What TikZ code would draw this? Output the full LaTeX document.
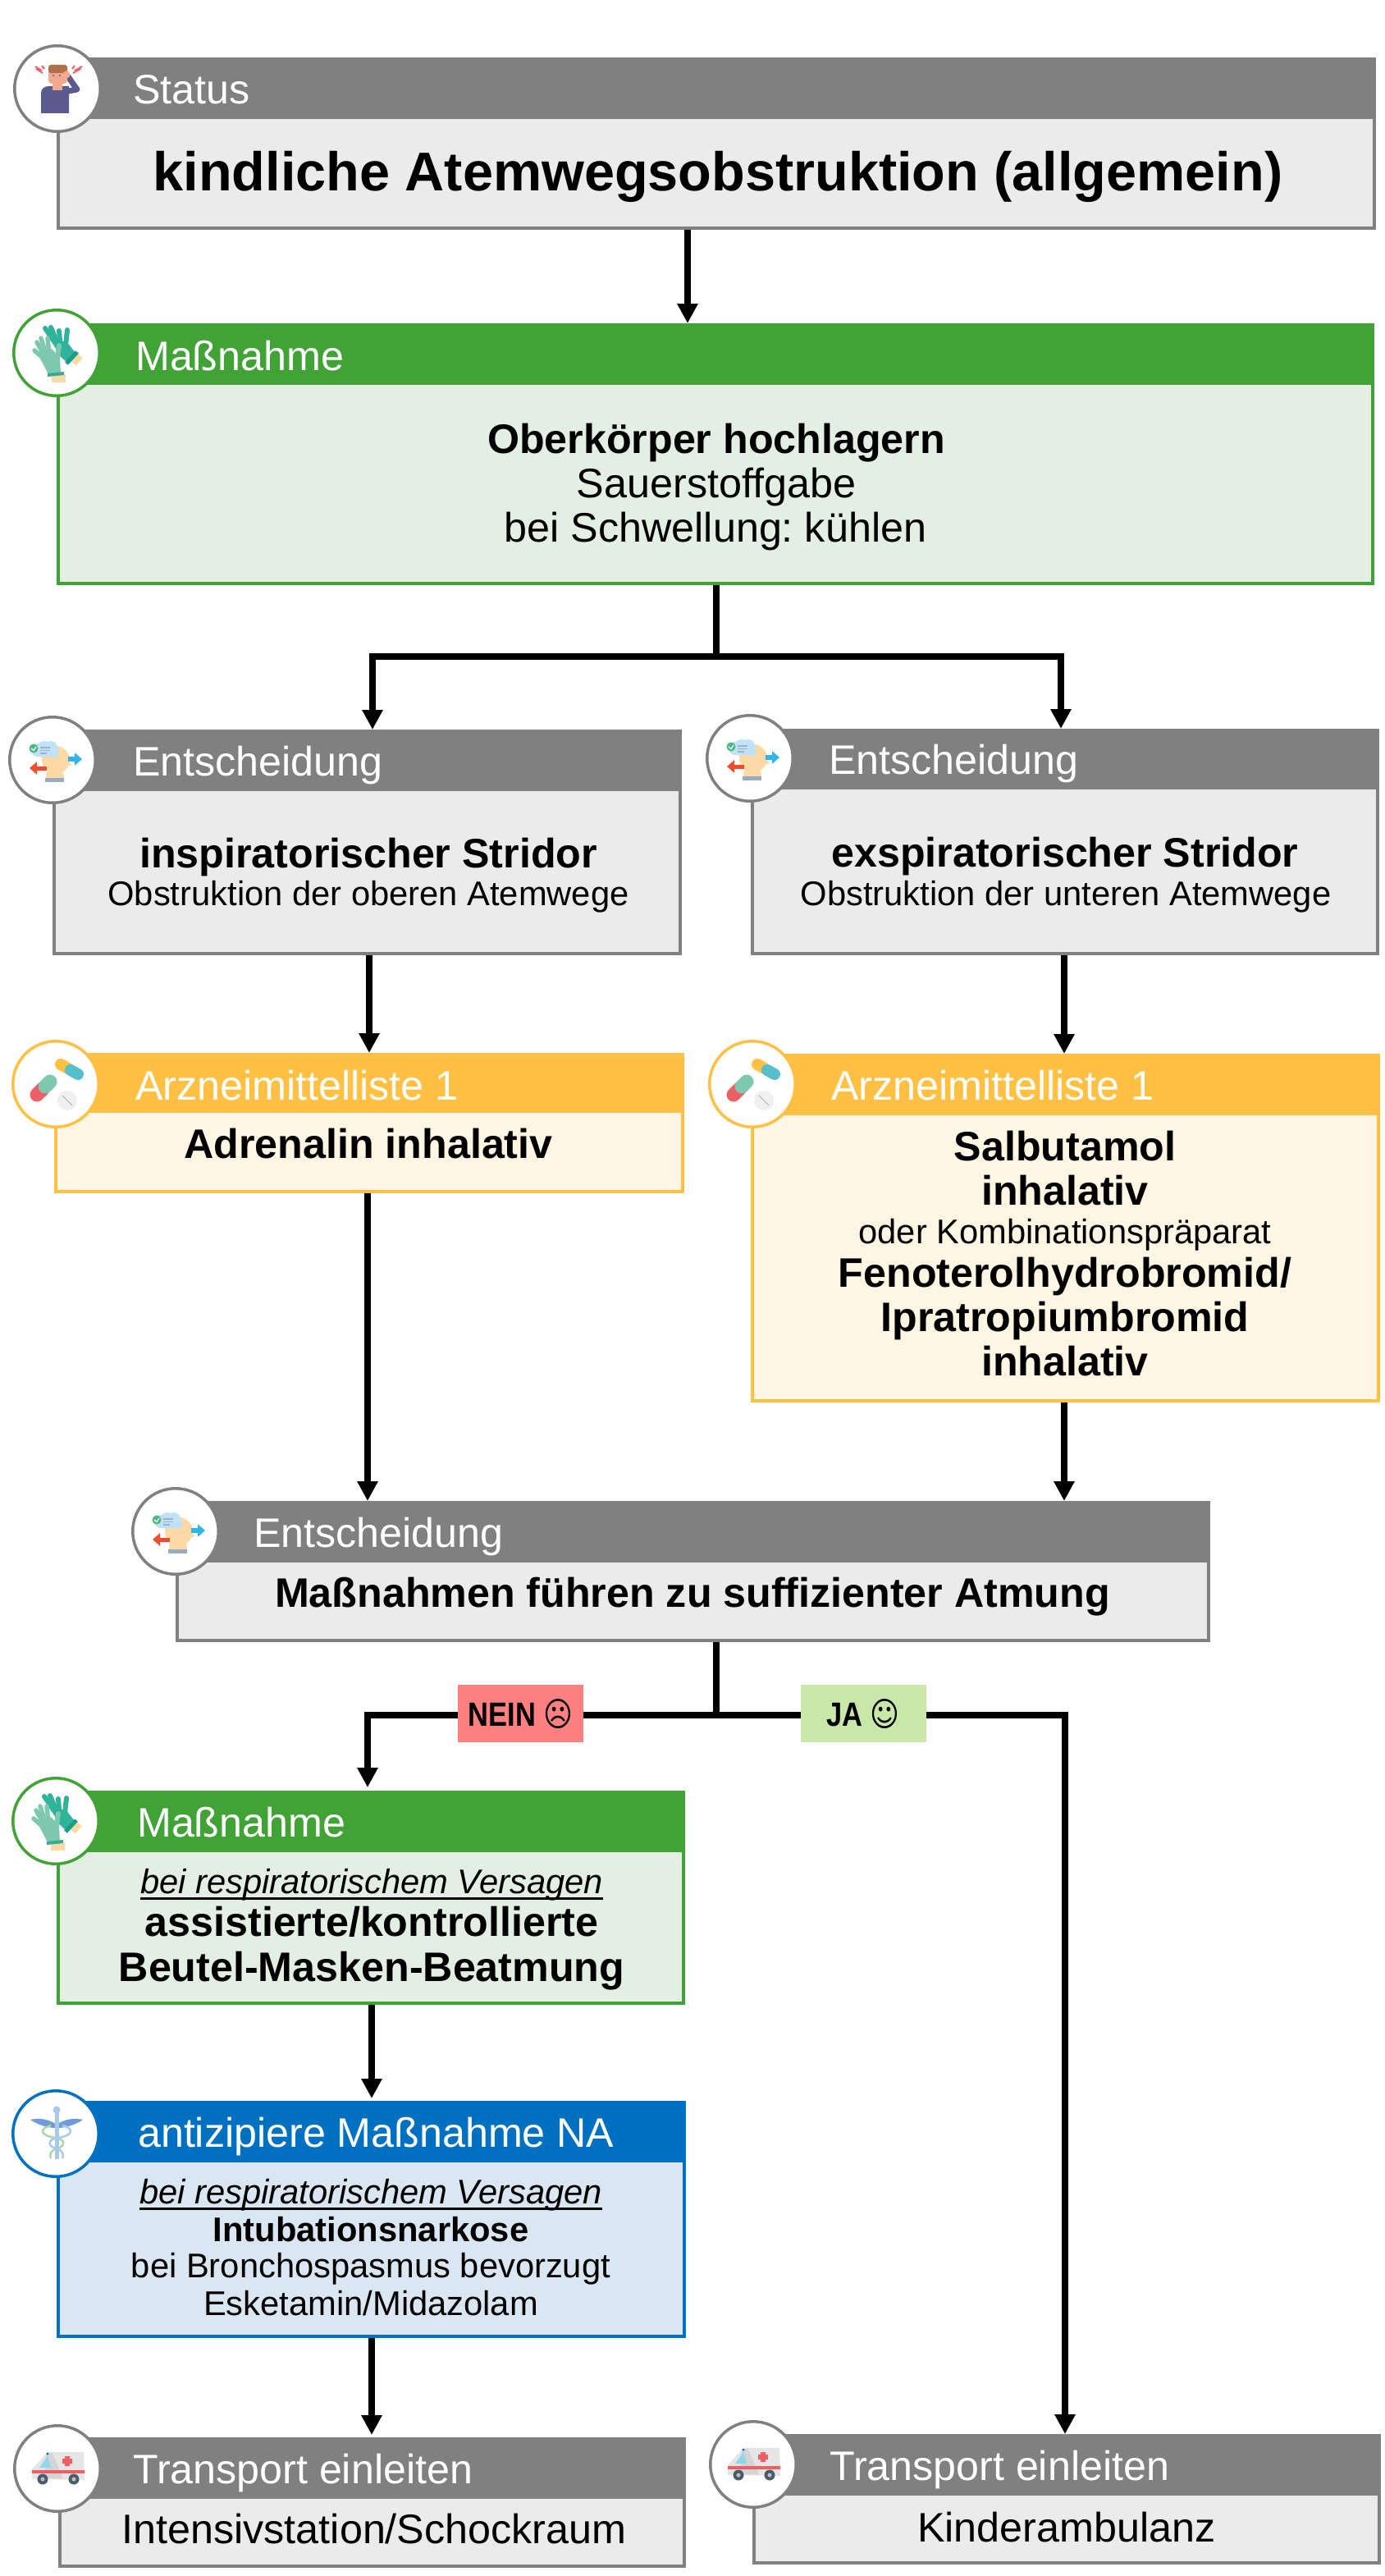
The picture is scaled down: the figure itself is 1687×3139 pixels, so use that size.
\documentclass[tikz,border=0pt]{standalone}
\usepackage{fontspec}
\usepackage{graphicx}
\setmainfont{Liberation Sans}
\newfontfamily\dej{DejaVu Sans}
\usetikzlibrary{arrows.meta}
\definecolor{grayM}{HTML}{808080}\definecolor{grayL}{HTML}{EBEBEB}
\definecolor{greenM}{HTML}{41A336}\definecolor{greenL}{HTML}{E2EFE2}
\definecolor{orangeM}{HTML}{FFC044}\definecolor{orangeL}{HTML}{FFF5E3}
\definecolor{blueM}{HTML}{0070C0}\definecolor{blueL}{HTML}{DAE6F2}
\definecolor{neinC}{HTML}{FF8080}\definecolor{jaC}{HTML}{C8E8A8}
\definecolor{skinC}{HTML}{F2A98E}\definecolor{skinL}{HTML}{FCD9A5}
\definecolor{tealD}{HTML}{2FB39B}\definecolor{tealL}{HTML}{7FC8B0}\definecolor{tealC}{HTML}{1A9D89}
\definecolor{indigoC}{HTML}{5A5A8E}\definecolor{hairC}{HTML}{B0704A}
\definecolor{redI}{HTML}{EC5F64}\definecolor{cloudC}{HTML}{BFE3F5}
\definecolor{skyI}{HTML}{2FB5EA}\definecolor{redA}{HTML}{EE4E2B}\definecolor{checkC}{HTML}{4DB885}
\definecolor{wingC}{HTML}{6F9BD8}\definecolor{staffC}{HTML}{A9C9EC}\definecolor{snakeC}{HTML}{A9D8A4}
\newcommand\card[7]{%
  \pgfmathsetmacro\cw{#5-#3-4}\pgfmathsetmacro\ch{#7-#4-4}%
  \pgfmathsetmacro\hw{#5-#3}\pgfmathsetmacro\hh{#6-#4}%
  \node[rectangle,draw=#2M,fill=#2L,line width=4pt,inner sep=0pt,outer sep=2pt,anchor=north west,minimum width=\cw pt,minimum height=\ch pt] (#1) at (#3,#4) {};
  \node[rectangle,fill=#2M,inner sep=0pt,outer sep=0pt,anchor=north west,minimum width=\hw pt,minimum height=\hh pt] (#1h) at (#3,#4) {};
}
\newcommand\badge[5]{%
  \node[circle,draw=#2M,fill=white,line width=3.5pt,minimum size=104.5pt,inner sep=0pt] (#1c) at (#3,#4) {};
  \pic at (#1c.center) {#5};
}
\newcommand\ulined[1]{\setbox0\hbox{#1}\rlap{\vrule height -5pt depth 7.8pt width \wd0}\box0}
\tikzset{
  hdr/.style={anchor=base west,text=white,inner sep=0pt,font=\fontsize{50.2}{54}\selectfont},
  bb/.style={anchor=base,inner sep=0pt,font=\fontsize{50.2}{55}\selectfont\bfseries},
  bs/.style={anchor=base,inner sep=0pt,font=\fontsize{41.7}{46}\selectfont\bfseries},
  rr/.style={anchor=base,inner sep=0pt,font=\fontsize{50.3}{55}\selectfont},
  tt/.style={anchor=base,inner sep=0pt,font=\fontsize{41.7}{46}\selectfont},
  ti/.style={anchor=base,inner sep=0pt,font=\fontsize{41.7}{46}\selectfont\itshape},
  conn/.style={line width=8.4pt,-{Triangle[length=24pt,width=24pt]}},
  plain/.style={line width=8.4pt},
  lab/.style={rectangle,inner sep=0pt,outer sep=0pt,minimum width=153pt,minimum height=70pt,font=\fontsize{41}{46}\selectfont\bfseries},
  icperson/.pic={
    \fill[indigoC] (-20,30) -- (-20,6) .. controls (-20,0) and (-16,-3) .. (-10,-3) -- (14,-3) -- (14,30) -- cycle;
    \draw[indigoC,line width=7pt,line join=round,line cap=round] (8,4) -- (24,1) -- (12,-16);
    \fill[skinC] (-6,-8) rectangle (6,2);
    \fill[skinC,rounded corners=4pt] (-11,-28) rectangle (12,-6);
    \fill[hairC,rounded corners=3pt] (-11,-29) rectangle (12,-19);
    \fill[skinC] (11,-17) circle (4.5pt);
    \fill[indigoC] (-5,-16) circle (1.2pt) (3,-16) circle (1.2pt);
    \draw[redI,line width=2pt] (-27,-27) -- (-21,-23) -- (-24,-23) -- (-18,-19);
    \draw[redI,line width=2pt] (-19,-28) -- (-16,-24);
    \draw[redI,line width=2pt] (30,-27) -- (23,-23) -- (26,-23) -- (19,-19);
    \draw[redI,line width=2pt] (21,-28) -- (18,-24);
  },
  icgloves/.pic={
    \draw[skinL,line width=10pt] (20,12) -- (28,3);
    \draw[tealD,line width=6pt,line cap=round] (5,-2) -- (-14,-30);
    \draw[tealD,line width=6pt,line cap=round] (5,-2) -- (-7,-31);
    \draw[tealD,line width=6pt,line cap=round] (5,-2) -- (3,-27);
    \draw[tealD,line width=6pt,line cap=round] (10,0) -- (13,-28);
    \fill[tealD] (-2,-14) -- (12,-14) -- (23,0) -- (13,12) -- (0,0) -- cycle;
    \draw[tealC,line width=5pt] (12,13) -- (25,-1);
    \draw[skinL,line width=9pt] (-6,31) -- (11,31);
    \draw[tealL,line width=5.5pt,line cap=round] (-10,12) -- (-27,-3);
    \draw[tealL,line width=5.5pt,line cap=round] (-10,12) -- (-24,-13);
    \draw[tealL,line width=5.5pt,line cap=round] (-10,12) -- (-19,-18);
    \draw[tealL,line width=5.5pt,line cap=round] (-8,12) -- (-11,-18);
    \draw[tealL,line width=6pt,line cap=round] (0,15) -- (3,-9);
    \fill[tealL] (-22,3) -- (-6,-5) -- (4,5) -- (5,26) -- (-10,26) -- cycle;
    \draw[tealC!70!tealL,line width=4pt] (-11,27) -- (9,25);
  },
  icthink/.pic={
    \fill[skinL] (4,0) circle (17pt);
    \fill[skinL] (-8,22) -- (-6,5) -- (12,8) -- (14,22) -- cycle;
    \fill[skinL] (19,1) -- (24,6) -- (16,8) -- cycle;
    \fill[staffC!60!grayM] (-9,22) rectangle (14,27);
    \fill[cloudC] (-10,-14) circle (9pt) (-2,-15) circle (8pt) (2,-9) circle (6pt) (-18,-12) circle (8pt) (-12,-9) circle (6pt);
    \fill[cloudC] (-20,-10) rectangle (6,-4);
    \draw[staffC!70!grayM,line width=1.3pt] (-15,-15) -- (-3,-15) (-15,-11.5) -- (-3,-11.5) (-15,-8) -- (-7,-8);
    \fill[checkC] (-23,-14) circle (5.5pt);
    \draw[white,line width=1.2pt] (-26,-14) -- (-23,-11.5) -- (-20,-16);
    \draw[skyI,line width=6pt,-{Triangle[length=9pt,width=15pt]}] (19,-1) -- (36,-1);
    \draw[redA,line width=5pt,-{Triangle[length=9pt,width=15pt]}] (-7,10) -- (-28,10);
  },
  icpills/.pic={
    \draw[orangeM,line width=14pt,line cap=round] (6,-24) -- (15,-19);
    \draw[skyI!50!tealL,line width=14pt,line cap=round] (27,-12) -- (18,-17);
    \draw[redI,line width=17pt,line cap=round] (-23,13) -- (-15,5);
    \draw[tealL,line width=17pt,line cap=round] (-7,-3) -- (-13,3);
    \fill[black!6] (14,20) circle (12pt);
    \draw[black!30,line width=1pt] (8,14) -- (20,26);
  },
  iccad/.pic={
    \fill[wingC] (0,-12) .. controls (-12,-19) and (-22,-19) .. (-31,-17) .. controls (-22,-11) and (-10,-7) .. (0,-7) -- cycle;
    \fill[wingC] (2,-12) .. controls (14,-19) and (24,-19) .. (33,-17) .. controls (24,-11) and (12,-7) .. (2,-7) -- cycle;
    \draw[snakeC,line width=2.5pt] (-6,-10) .. controls (-22,-6) and (-18,3) .. (0,5) .. controls (12,7) and (12,15) .. (2,18) .. controls (-7,20) and (-8,26) .. (-6,30);
    \draw[staffC,line width=2.5pt] (8,-10) .. controls (24,-6) and (20,3) .. (2,5) .. controls (-10,7) and (-10,15) .. (0,18) .. controls (9,20) and (10,26) .. (8,30);
    \draw[staffC,line width=5pt] (1,-28) -- (1,31);
    \fill[staffC] (1,-29) circle (4.5pt);
  },
  icamb/.pic={
    \fill[black!10] (-31,13) -- (-31,1) -- (-14,-18) -- (-7,-20) -- (32,-20) -- (33,14) -- cycle;
    \fill[black!17] (-7,-20) -- (7,12) -- (-16,12) -- (-14,-18) -- cycle;
    \fill[tealL!30!skyI!60!white] (-22,-1) -- (-12,-15) -- (-8,-1) -- cycle;
    \fill[redI] (-31,2) rectangle (33,6);
    \fill[redI] (9,-15) rectangle (15,-3) (6,-12) rectangle (18,-6);
    \fill[black!55!staffC] (-18,13) circle (6.5pt) (20,13) circle (6.5pt);
    \fill[black!25] (-18,13) circle (2.5pt) (20,13) circle (2.5pt);
    \fill[blueM] (-12,-18) circle (1.7pt);
  }
}
\begin{document}
\frenchspacing
\begin{tikzpicture}[x=1pt,y=-1pt]
\useasboundingbox (0,0) rectangle (1687,3139);
\fill[white] (0,0) rectangle (1687,3139);
% column coordinates for the connectors
\coordinate (xa) at (838,0);\coordinate (xt) at (873,0);
\coordinate (xl) at (454,0);\coordinate (xr) at (1297,0);\coordinate (xu) at (1293,0);
\coordinate (xe) at (450,0);\coordinate (xf) at (448,0);
\coordinate (xg) at (453,0);\coordinate (xh) at (1298,0);
\coordinate (ybr) at (0,800);\coordinate (yno) at (0,2090);
% cards
\card{st}{gray}{69}{70}{1677}{145}{280}
\card{ma}{green}{69}{394}{1675}{469}{713}
\card{el}{gray}{64}{889}{831}{964}{1164}
\card{er}{gray}{915}{888}{1681}{962}{1164}
\card{al}{orange}{66}{1283}{834}{1356}{1454}
\card{ar}{orange}{915}{1284}{1682}{1359}{1709}
\card{em}{gray}{214}{1829}{1475}{1904}{2001}
\card{mb}{green}{69}{2182}{835}{2257}{2443}
\card{an}{blue}{69}{2560}{836}{2635}{2849}
\card{tl}{gray}{71}{2970}{836}{3045}{3129}
\card{tr}{gray}{917}{2966}{1683}{3041}{3125}
% connectors
\draw[conn] (st.south -| xa) -- (mah.north -| xa);
\coordinate (jt) at (xt |- ybr);
\draw[plain] (ma.south -| xt) -- (jt);
\draw[conn] (jt) -| (xl |- elh.north);
\draw[conn] (jt) -| (xu |- erh.north);
\draw[conn] (el.south -| xe) -- (alh.north -| xe);
\draw[conn] (er.south -| xr) -- (arh.north -| xr);
\draw[conn] (al.south -| xf) -- (emh.north -| xf);
\draw[conn] (ar.south -| xr) -- (emh.north -| xr);
\coordinate (jn) at (xt |- yno);
\node[lab,fill=neinC] (nein) at (634.5,2088) {\raisebox{-2pt}{\scalebox{0.84}[1]{NEIN {\dej\char"2639}}}};
\node[lab,fill=jaC] (ja) at (1052,2088) {\raisebox{-2pt}{\scalebox{0.84}[1]{JA {\dej\char"263A}}}};
\draw[plain] (em.south -| xt) -- (jn);
\draw[plain] (nein.east |- yno) -- (ja.west |- yno);
\draw[conn,shorten >=4pt] (nein.west |- yno) -| (xf |- mbh.north);
\draw[conn] (ja.east |- yno) -| (xh |- trh.north);
\draw[conn,shorten >=3pt] (mb.south -| xg) -- (anh.north -| xg);
\draw[conn,shorten >=3pt] (an.south -| xg) -- (tlh.north -| xg);
% badges
\badge{st}{gray}{70}{108}{icperson}
\badge{ma}{green}{69}{430}{icgloves}
\badge{el}{gray}{64}{926}{icthink}
\badge{er}{gray}{914}{924}{icthink}
\badge{al}{orange}{68}{1321}{icpills}
\badge{ar}{orange}{917}{1321}{icpills}
\badge{em}{gray}{214}{1866}{icthink}
\badge{mb}{green}{68}{2219}{icgloves}
\badge{an}{blue}{68}{2600}{iccad}
\badge{tl}{gray}{70}{3008}{icamb}
\badge{tr}{gray}{918}{3003}{icamb}
% header texts
\node[hdr] (t1) at (162,127) {Status};
\node[hdr] (t2) at (165,451) {Maßnahme};
\node[hdr] (t3) at (162,945) {Entscheidung};
\node[hdr] (t4) at (1010,943) {Entscheidung};
\node[hdr] (t5) at (165,1340) {Arzneimittelliste 1};
\node[hdr] (t6) at (1013,1340) {Arzneimittelliste 1};
\node[hdr] (t7) at (309,1885) {Entscheidung};
\node[hdr] (t8) at (167,2238) {Maßnahme};
\node[hdr] (t9) at (168,2616) {antizipiere Maßnahme NA};
\node[hdr] (t10) at (162,3026) {Transport einleiten};
\node[hdr] (t11) at (1011,3022) {Transport einleiten};
% body texts
\node[anchor=base,inner sep=0pt,font=\fontsize{66.6}{72}\selectfont\bfseries] (b1) at (875,233) {kindliche Atemwegsobstruktion (allgemein)};
\node[bb] (b2) at (873,552) {Oberkörper hochlagern};
\node[rr] (b3) at (873,606) {Sauerstoffgabe};
\node[rr] (b4) at (872,660) {bei Schwellung: kühlen};
\node[bb] (b5) at (449,1057) {inspiratorischer Stridor};
\node[tt] (b6) at (449,1103) {Obstruktion der oberen Atemwege};
\node[bb] (b7) at (1298,1056) {exspiratorischer Stridor};
\node[tt] (b8) at (1299,1103) {Obstruktion der unteren Atemwege};
\node[bb] (b9) at (449,1411) {Adrenalin inhalativ};
\node[bb] (b10) at (1298,1414) {Salbutamol};
\node[bb] (b11) at (1298,1468) {inhalativ};
\node[tt] (b12) at (1298,1515) {oder Kombinationspräparat};
\node[bb] (b13) at (1298,1568) {Fenoterolhydrobromid/};
\node[bb] (b14) at (1298,1622) {Ipratropiumbromid};
\node[bb] (b15) at (1298,1676) {inhalativ};
\node[bb] (b16) at (844,1958) {Maßnahmen führen zu suffizienter Atmung};
\node[ti] (b17) at (453,2307) {\ulined{bei respiratorischem Versagen}};
\node[bb] (b18) at (453,2359) {assistierte/kontrollierte};
\node[bb] (b19) at (453,2414) {Beutel-Masken-Beatmung};
\node[ti] (b20) at (452,2685) {\ulined{bei respiratorischem Versagen}};
\node[bs] (b21) at (452,2731) {Intubationsnarkose};
\node[tt] (b22) at (452,2775) {bei Bronchospasmus bevorzugt};
\node[tt] (b23) at (452,2821) {Esketamin/Midazolam};
\node[rr] (b24) at (456,3099) {Intensivstation/Schockraum};
\node[rr] (b25) at (1300,3097) {Kinderambulanz};
\end{tikzpicture}
\end{document}
